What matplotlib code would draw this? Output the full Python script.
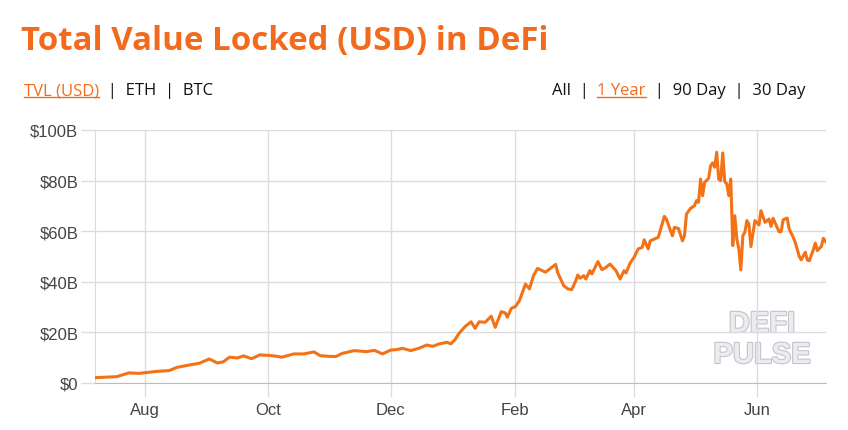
import pandas as pd
import matplotlib
matplotlib.use("Agg")
import matplotlib.pyplot as plt
import matplotlib.dates as mdates
import matplotlib.patheffects as pe
from matplotlib.lines import Line2D

# days counted from 2020-07-06, TVL in billions USD
start = pd.Timestamp("2020-07-06")
days = [1, 12, 18, 23, 32, 38, 42, 48, 53, 58, 62, 65, 68, 72, 75, 79, 83, 88, 92,
        94, 100, 105, 110, 113, 118, 121, 124, 130, 136, 140, 144, 148, 151, 154, 158,
        162, 166, 169, 172, 176, 178, 180, 182,
        185, 188, 190, 192, 195, 198, 200, 203, 205, 206, 208, 210, 212, 215, 217, 219,
        221, 225, 230, 231, 234, 236, 238, 240, 241, 242, 244, 245, 247, 248, 251, 253,
        255, 257, 260, 262, 264, 265, 267, 269, 271, 273, 274, 276, 277, 279, 281, 284,
        285, 288, 289, 291, 293, 294, 295, 297, 299, 300, 301, 302, 303, 304, 306, 307,
        308, 309, 310, 311, 312, 313, 314, 315, 316, 317, 318, 319, 320, 321, 322, 323,
        324, 325, 326, 327, 329, 331, 332, 334, 336, 337, 338, 341, 342, 343, 345, 346,
        348, 349, 351, 352, 354, 355, 356, 358, 359, 360, 362, 363, 365]
tvl = [2.1, 2.5, 4.0, 3.8, 4.6, 4.9, 6.2, 7.1, 7.8, 9.5, 7.9, 8.4, 10.2, 9.9, 10.7, 9.6, 11.1, 10.9, 10.5,
       10.2, 11.5, 11.5, 12.3, 10.8, 10.5, 10.5, 11.7, 12.8, 12.4, 12.9, 11.5, 13.0, 13.2, 13.7, 12.8,
       13.7, 15.0, 14.5, 15.4, 16.1, 15.5, 17.1, 19.6,
       22.3, 24.2, 21.6, 24.2, 24.0, 26.4, 22.0, 28.2, 27.7, 26.0, 29.5, 30.2, 32.5, 39.1, 37.2, 42.4,
       45.3, 43.8, 46.9, 43.7, 38.5, 37.2, 36.9, 40.4, 42.7, 41.4, 42.4, 41.1, 44.4, 43.1, 48.0, 44.8,
       45.7, 47.0, 44.4, 41.1, 44.4, 43.5, 47.4, 49.7, 53.0, 53.6, 56.6, 53.0, 56.2, 56.9, 57.6, 65.9,
       64.8, 58.2, 61.5, 61.1, 56.2, 58.2, 66.8, 69.0, 70.1, 72.1, 71.4, 80.6, 74.0, 79.3, 80.9, 85.9,
       87.0, 85.3, 91.2, 80.6, 80.0, 90.9, 79.6, 78.7, 74.0, 80.6, 54.3, 66.1, 56.9, 53.0, 44.7, 58.2,
       59.6, 64.2, 62.8, 53.9, 64.2, 62.5, 68.1, 63.5, 64.8, 61.9, 65.1, 59.8, 59.8, 64.5, 65.2, 60.9,
       57.6, 55.6, 50.1, 48.7, 51.7, 48.6, 48.3, 52.7, 55.3, 52.3, 54.0, 57.2, 54.9]
yticks = [0, 20, 40, 60, 80, 100]
ylabels = ["$0", "$20B", "$40B", "$60B", "$80B", "$100B"]

dates = start + pd.to_timedelta(days, unit="D")

ORANGE = "#f26b1d"
GRID = "#dcdcdc"

fig = plt.figure(figsize=(8.48, 4.31), dpi=100)
ax = fig.add_axes([95 / 848, 1 - 384 / 431, 731 / 848, 253 / 431])

ax.plot(dates, tvl, color="#f47216", lw=2.2, solid_joinstyle="round", zorder=3)

ax.set_ylim(0, 100)
ax.set_xlim(start + pd.Timedelta(days=1.2), start + pd.Timedelta(days=364.3))
ax.set_yticks(yticks)
ax.set_yticklabels(ylabels)
ax.xaxis.set_major_locator(mdates.MonthLocator(bymonth=[2, 4, 6, 8, 10, 12]))
ax.xaxis.set_major_formatter(mdates.DateFormatter("%b"))

ax.grid(True, color=GRID, lw=1, zorder=0)
for s in ["top", "right"]:
    ax.spines[s].set_visible(False)
ax.spines["left"].set_color(GRID)
ax.spines["bottom"].set_color("#bdbdbd")
ax.tick_params(axis="both", length=10, color=GRID, labelcolor="#444444",
               labelsize=12, width=1)
ax.tick_params(axis="y", pad=2)
ax.tick_params(axis="x", pad=4)
for lab in ax.get_xticklabels() + ax.get_yticklabels():
    lab.set_family("Liberation Sans")

# watermark
for txt, yy in [("DEFI", 325), ("PULSE", 356)]:
    ax.text(762, 431 - yy, txt, transform=None, fontsize=21, fontweight="bold",
            family="Liberation Sans", color="#ececf0", ha="center", va="center",
            path_effects=[pe.withStroke(linewidth=1.6, foreground="#c4c4cc")], zorder=1)

# title
fig.text(21 / 848, 1 - 50 / 431, "Total Value Locked (USD) in DeFi", color=ORANGE,
         fontsize=23.8, fontweight="bold", family="Open Sans", va="baseline")

fig.canvas.draw()
renderer = fig.canvas.get_renderer()


def row(parts, x0, ybase):
    # lay out a row of text pieces, underlining the highlighted ones
    x = x0
    for text, hi in parts:
        t = fig.text(x / 848, 1 - ybase / 431, text, fontsize=12, family="Open Sans",
                     color=ORANGE if hi else "#111111", va="baseline")
        bb = t.get_window_extent(renderer)
        if hi:
            fig.add_artist(Line2D([bb.x0, bb.x1], [431 - ybase - 3, 431 - ybase - 3],
                                  transform=None, color=ORANGE, lw=1))
        x += bb.width


def row_width(parts):
    w = 0
    for text, hi in parts:
        t = fig.text(0, 0, text, fontsize=12, family="Open Sans")
        w += t.get_window_extent(renderer).width
        t.remove()
    return w


left_parts = [("TVL (USD)", True), ("  |  ETH  |  BTC", False)]
right_parts = [("All  |  ", False), ("1 Year", True), ("  |  90 Day  |  30 Day", False)]
row(left_parts, 24, 95)
row(right_parts, 805 - row_width(right_parts), 95)

fig.savefig("out.png", dpi=100)
